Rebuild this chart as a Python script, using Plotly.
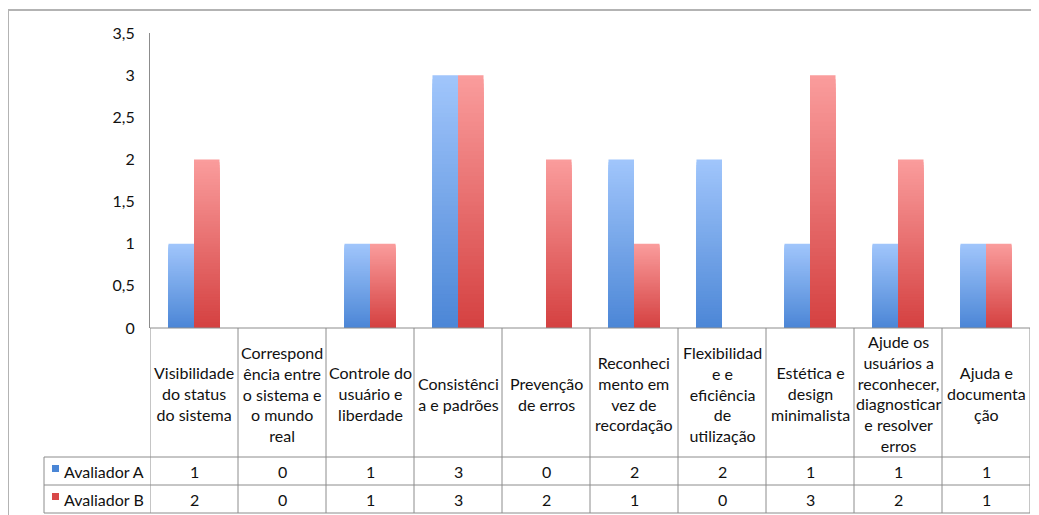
import plotly.graph_objects as go

# ---- data ----
categories = [
    "Visibilidade<br>do status<br>do sistema",
    "Correspond<br>ência entre<br>o sistema e<br>o mundo<br>real",
    "Controle do<br>usuário e<br>liberdade",
    "Consistênci<br>a e padrões",
    "Prevenção<br>de erros",
    "Reconheci<br>mento em<br>vez de<br>recordação",
    "Flexibilidad<br>e e<br>eficiência<br>de<br>utilização",
    "Estética e<br>design<br>minimalista",
    "Ajude os<br>usuários a<br>reconhecer,<br>diagnosticar<br>e resolver<br>erros",
    "Ajuda e<br>documenta<br>ção",
]
series_names = ["Avaliador A", "Avaliador B"]
avaliador_a = [1, 0, 1, 3, 0, 2, 2, 1, 1, 1]
avaliador_b = [2, 0, 1, 3, 2, 1, 0, 3, 2, 1]
y_ticks = [0, 0.5, 1, 1.5, 2, 2.5, 3, 3.5]
y_tick_labels = ["0", "0,5", "1", "1,5", "2", "2,5", "3", "3,5"]

# ---- style ----
FONT = "Lato"
FS = 16
TXT = "#111111"
LINE = "#8c8c8c"
grad = {
    "A": ((0x4B, 0x86, 0xD6), (0xA0, 0xC5, 0xFB)),  # bottom, top
    "B": ((0xD4, 0x40, 0x40), (0xFA, 0x9C, 0x9C)),
}
swatch = {"A": "#4a86d6", "B": "#d84848"}
N = 60

OFF = 8  # page body margin
W, H = 1039 - OFF, 515 - OFF
PLOT_L, PLOT_R, PLOT_T, PLOT_B = 150, 1030, 33, 328
L, R, T, B = PLOT_L - OFF, 1039 - PLOT_R, PLOT_T - OFF, 515 - PLOT_B

fig = go.Figure()
n = len(categories)
xs = list(range(n))


def lerp(c0, c1, t):
    return "rgb(%d,%d,%d)" % tuple(round(a + (b - a) * t) for a, b in zip(c0, c1))


# gradient bars: full bar in top colour, then progressively shorter overlays
for key, vals in (("A", avaliador_a), ("B", avaliador_b)):
    c0, c1 = grad[key]
    for i in range(N):
        frac = (N - i) / N
        col = lerp(c0, c1, frac)
        fig.add_trace(go.Bar(
            x=xs,
            y=[v * frac for v in vals],
            offsetgroup=key,
            marker=dict(color=col, line=dict(width=0)),
            showlegend=False,
            hoverinfo="skip",
        ))

fig.update_layout(
    width=W, height=H,
    margin=dict(l=L, r=R, t=T, b=B),
    paper_bgcolor="white", plot_bgcolor="white",
    barmode="group", bargap=0.42, bargroupgap=0,
    font=dict(family=FONT, size=FS, color=TXT),
    showlegend=False,
)
fig.update_xaxes(range=[-0.5, n - 0.5], showticklabels=False, showgrid=False,
                 zeroline=False, showline=False, ticks="")
fig.update_yaxes(range=[0, 3.5], tickvals=y_ticks, ticktext=y_tick_labels,
                 showgrid=False, zeroline=False, showline=True,
                 linecolor=LINE, linewidth=1, ticks="", ticklabelstandoff=11,
                 tickfont=dict(family=FONT, size=FS, color=TXT))

PW = PLOT_R - PLOT_L
PH = PLOT_B - PLOT_T


def py(px):
    return 1 - (px - PLOT_T) / PH


def px_(xx):
    return (xx - PLOT_L) / PW


y_zero, y_hdr, y_rowA, y_rowB = 328, 457, 485, 513
legend_left_px = 44

shapes = []
shapes.append(dict(type="line", xref="x", yref="paper", x0=-0.5, x1=n - 0.5,
                   y0=py(y_zero), y1=py(y_zero), line=dict(color=LINE, width=1)))
for yy in (y_hdr, y_rowA, y_rowB):
    shapes.append(dict(type="line", xref="paper", yref="paper",
                       x0=px_(legend_left_px), x1=1,
                       y0=py(yy), y1=py(yy), line=dict(color=LINE, width=1)))
for k in range(n + 1):
    shapes.append(dict(type="line", xref="x", yref="paper", x0=k - 0.5, x1=k - 0.5,
                       y0=py(y_zero), y1=py(y_rowB), line=dict(color=LINE, width=1)))
shapes.append(dict(type="line", xref="paper", yref="paper",
                   x0=px_(legend_left_px), x1=px_(legend_left_px),
                   y0=py(y_hdr), y1=py(y_rowB), line=dict(color=LINE, width=1)))
# outer frame
shapes.append(dict(type="line", xref="paper", yref="paper",
                   x0=px_(8), x1=px_(1045),
                   y0=py(10), y1=py(10), line=dict(color="#b3b3b3", width=2)))
shapes.append(dict(type="line", xref="paper", yref="paper",
                   x0=px_(8), x1=px_(8),
                   y0=py(10), y1=py(520), line=dict(color="#b3b3b3", width=2)))
for key, yy in (("A", (y_hdr + y_rowA) / 2), ("B", (y_rowA + y_rowB) / 2)):
    shapes.append(dict(type="rect", xref="paper", yref="paper",
                       x0=px_(52), x1=px_(59),
                       y0=py(yy + 1), y1=py(yy - 6), line=dict(width=0),
                       fillcolor=swatch[key]))

annotations = []
for i, cat in enumerate(categories):
    annotations.append(dict(x=i, y=py((y_zero + y_hdr) / 2 + 1), xref="x", yref="paper",
                            text=cat, showarrow=False, xanchor="center", yanchor="middle",
                            align="center", font=dict(family=FONT, size=FS, color=TXT)))
    annotations.append(dict(x=i, y=py((y_hdr + y_rowA) / 2), xref="x", yref="paper",
                            text=str(avaliador_a[i]), showarrow=False,
                            xanchor="center", yanchor="middle",
                            font=dict(family=FONT, size=FS, color=TXT)))
    annotations.append(dict(x=i, y=py((y_rowA + y_rowB) / 2), xref="x", yref="paper",
                            text=str(avaliador_b[i]), showarrow=False,
                            xanchor="center", yanchor="middle",
                            font=dict(family=FONT, size=FS, color=TXT)))
for name, yy in zip(series_names, ((y_hdr + y_rowA) / 2, (y_rowA + y_rowB) / 2)):
    annotations.append(dict(x=px_(62), y=py(yy), xref="paper", yref="paper",
                            text=name, showarrow=False, xanchor="left", yanchor="middle",
                            font=dict(family=FONT, size=FS, color=TXT)))

fig.update_layout(shapes=shapes, annotations=annotations)
fig.write_html("out.html")
